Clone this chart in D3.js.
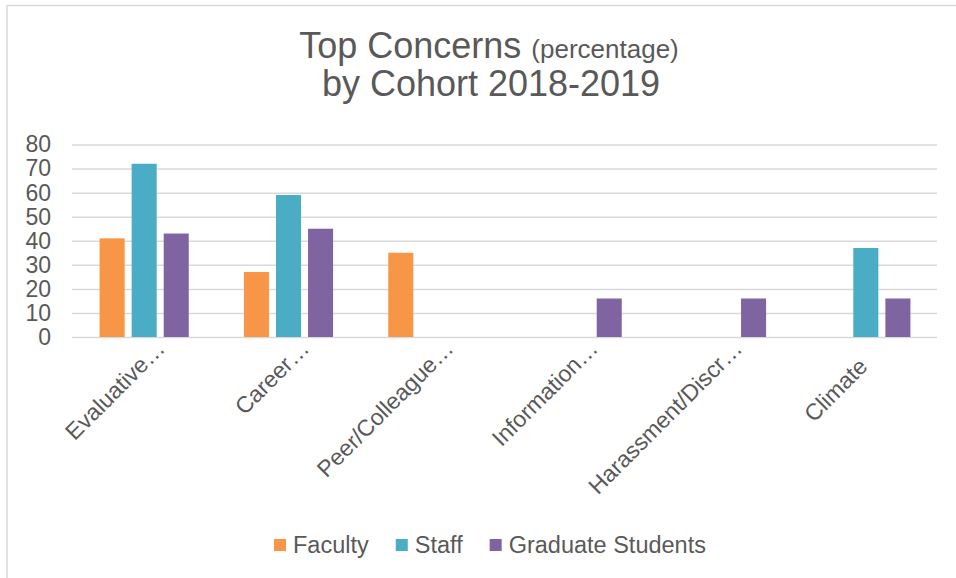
<!DOCTYPE html>
<html>
<head>
<meta charset="utf-8">
<script src="https://cdn.jsdelivr.net/npm/d3@7"></script>
<style>
  body { margin: 0; background: #fff; }
  svg, svg text { font-family: Arial, "Liberation Sans", Helvetica, sans-serif; }
  svg { display: block; }
</style>
</head>
<body>
<div id="chart"></div>
<script>
// data
const categories = ['Evaluative…', 'Career…', 'Peer/Colleague…', 'Information…', 'Harassment/Discr…', 'Climate'];
const seriesNames = ['Faculty', 'Staff', 'Graduate Students'];
const faculty = [41, 27, 35, 0, 0, 0];
const staff = [72, 59, 0, 0, 0, 37];
const gradStudents = [43, 45, 0, 16, 16, 16];
const yTicks = [0, 10, 20, 30, 40, 50, 60, 70, 80];
const colors = ['#F79646', '#4BACC6', '#8064A2'];

const W = 956, H = 578;
const textColor = '#595959';
const gridColor = '#d9d9d9';
const font = 'Arial, "Liberation Sans", Helvetica, sans-serif';

const svg = d3.select('#chart')
    .append('svg')
    .attr('width', W)
    .attr('height', H);

// chart frame (only left and top visible)
svg.append('rect')
    .attr('x', 7).attr('y', 5.5)
    .attr('width', 1000).attr('height', 1000)
    .attr('fill', 'none')
    .attr('stroke', gridColor)
    .attr('stroke-width', 1.5);

// title
const title = svg.append('text')
    .attr('x', 489).attr('y', 58)
    .attr('text-anchor', 'middle')
    .attr('font-family', font)
    .attr('fill', textColor);
title.append('tspan').attr('font-size', 36).text('Top Concerns ');
title.append('tspan').attr('font-size', 26).text('(percentage)');

svg.append('text')
    .attr('x', 491).attr('y', 96)
    .attr('text-anchor', 'middle')
    .attr('font-family', font)
    .attr('font-size', 36)
    .attr('fill', textColor)
    .text('by Cohort 2018-2019');

// scales
const x0 = d3.scaleBand()
    .domain(categories)
    .range([72, 938]);

const x1 = d3.scaleBand()
    .domain(seriesNames)
    .range([0, x0.bandwidth()])
    .paddingInner(7 / 32)
    .paddingOuter(0.86);

const y = d3.scaleLinear()
    .domain([0, 80])
    .range([337, 144.5]);

// y axis + gridlines
const yAxis = svg.append('g')
    .attr('transform', 'translate(72,0)')
    .call(d3.axisLeft(y)
        .tickValues(yTicks)
        .tickSize(-(937 - 72))
        .tickPadding(21));
yAxis.select('.domain').remove();
yAxis.selectAll('line')
    .attr('stroke', gridColor)
    .attr('stroke-width', 1.5);
yAxis.selectAll('text')
    .attr('fill', textColor)
    .attr('font-size', 23)
    .attr('font-family', font);

// bars
const rows = categories.map((c, i) => ({
    category: c,
    values: [faculty[i], staff[i], gradStudents[i]]
}));

const groups = svg.append('g')
    .selectAll('g')
    .data(rows)
    .enter()
    .append('g')
    .attr('transform', d => `translate(${x0(d.category)},0)`);

groups.selectAll('rect')
    .data(d => d.values.map((v, j) => ({ name: seriesNames[j], value: v, color: colors[j] })))
    .enter()
    .filter(d => d.value > 0)
    .append('rect')
    .attr('x', d => x1(d.name))
    .attr('width', x1.bandwidth())
    .attr('y', d => y(d.value))
    .attr('height', d => y(0) - y(d.value))
    .attr('fill', d => d.color);

// x axis labels, rotated
const xAxis = svg.append('g')
    .attr('transform', 'translate(0,337)')
    .call(d3.axisBottom(x0).tickSize(0));
xAxis.select('.domain').remove();
xAxis.selectAll('.tick text')
    .attr('fill', textColor)
    .attr('font-size', 23)
    .attr('font-family', font)
    .attr('text-anchor', 'end')
    .attr('dy', 0)
    .attr('y', 0)
    .attr('transform', d => {
        // truncated labels sit a bit further right/up than full ones
        const truncated = d.endsWith('…');
        const dx = truncated ? 22 : 3;
        const dy = truncated ? 13 : 31;
        return `translate(${dx},${dy}) rotate(-45)`;
    });

// legend
const legend = svg.append('g');
let lx = 274;
seriesNames.forEach((name, i) => {
    legend.append('rect')
        .attr('x', lx).attr('y', 539)
        .attr('width', 12).attr('height', 12)
        .attr('fill', colors[i]);
    const t = legend.append('text')
        .attr('x', lx + 19).attr('y', 552.5)
        .attr('font-family', font)
        .attr('font-size', 23.5)
        .attr('fill', textColor)
        .text(name);
    lx += 19 + t.node().getComputedTextLength() + 27;
});
</script>
</body>
</html>
